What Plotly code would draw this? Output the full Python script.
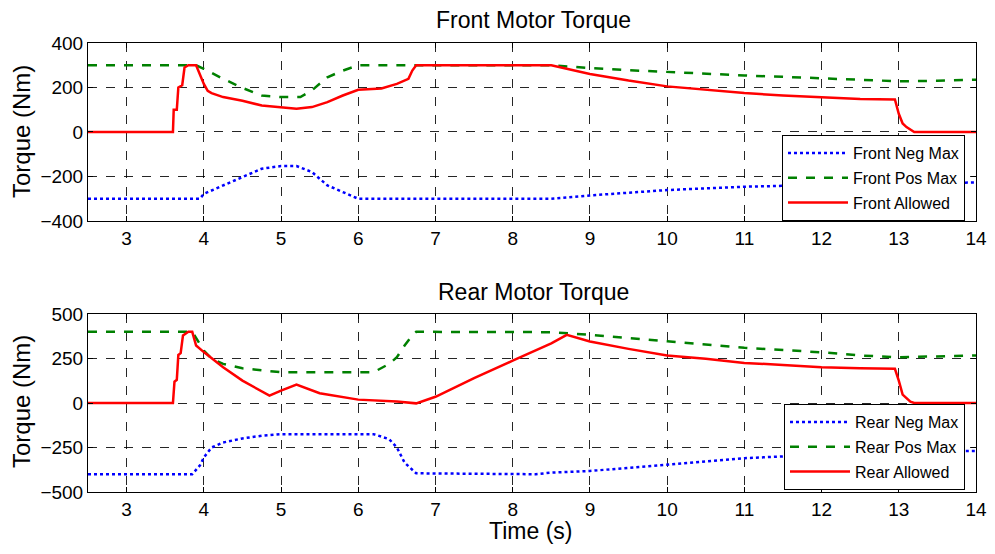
import plotly.graph_objects as go

# ---------------- data ----------------
front_neg_t = [2.5, 3.95, 4.0, 4.25, 4.5, 4.75, 5.0, 5.2, 5.4, 5.6, 5.8, 6.0, 8.5, 9.0, 10.0, 11.0, 12.0, 13.0, 14.0]
front_neg = [-300, -300, -278, -240, -203, -165, -153, -153, -180, -240, -270, -300, -300, -285, -261, -246, -238, -232, -227]

front_pos_t = [2.5, 3.9, 4.0, 4.25, 4.5, 4.75, 5.0, 5.25, 5.4, 5.6, 5.8, 6.0, 8.5, 9.0, 9.5, 10.0, 10.5, 11.0, 11.5, 12.0, 12.5, 13.0, 13.5, 14.0]
front_pos = [300, 300, 284, 239, 198, 164, 157, 157, 187, 246, 276, 300, 300, 287, 278, 269, 262, 254, 248, 242, 236, 228, 230, 235]

front_allow_t = [2.5, 3.6, 3.61, 3.65, 3.67, 3.72, 3.75, 3.8, 3.9, 3.95, 4.0, 4.05, 4.1, 4.25, 4.5, 4.75, 5.0, 5.2, 5.4, 5.6, 5.8, 6.0, 6.3, 6.5, 6.65, 6.7, 6.75,
                 8.5, 9.0, 9.5, 10.0, 10.5, 11.0, 11.5, 12.0, 12.5, 12.95, 13.0, 13.05, 13.1, 13.2, 14.0]
front_allow = [0, 0, 100, 100, 200, 210, 290, 300, 300, 260, 216, 185, 175, 157, 140, 119, 109, 104, 112, 134, 164, 190, 196, 216, 239, 276, 300,
               300, 261, 231, 205, 190, 175, 164, 157, 148, 146, 82, 38, 22, 0, 0]

rear_neg_t = [2.5, 3.85, 3.95, 4.0, 4.1, 4.25, 4.5, 4.75, 5.0, 6.2, 6.4, 6.5, 6.6, 6.75, 8.3, 8.5, 9.0, 10.0, 11.0, 12.0, 13.0, 14.0]
rear_neg = [-400, -400, -350, -306, -250, -222, -199, -184, -175, -175, -203, -250, -335, -395, -400, -391, -382, -348, -310, -290, -277, -269]

rear_pos_t = [2.5, 3.85, 3.95, 4.0, 4.1, 4.25, 4.5, 4.75, 5.0, 6.2, 6.4, 6.5, 6.6, 6.7, 6.75, 8.5, 9.0, 10.0, 11.0, 12.0, 12.5, 13.0, 14.0]
rear_pos = [400, 400, 330, 295, 250, 220, 195, 186, 173, 173, 220, 257, 323, 380, 400, 398, 383, 347, 310, 285, 267, 257, 267]

rear_allow_t = [2.5, 3.6, 3.62, 3.65, 3.67, 3.7, 3.73, 3.8, 3.85, 3.9, 4.0, 4.25, 4.5, 4.75, 4.85, 5.0, 5.2, 5.5, 6.0, 6.5, 6.75, 7.0, 7.5, 8.0, 8.5, 8.7,
                9.0, 9.5, 10.0, 10.5, 11.0, 11.5, 12.0, 12.5, 12.95, 13.0, 13.05, 13.15, 13.2, 14.0]
rear_allow = [0, 0, 120, 130, 270, 280, 380, 400, 400, 323, 286, 201, 126, 64, 41, 70, 103, 55, 19, 8, -2, 35, 140, 238, 335, 383,
              346, 304, 267, 248, 225, 214, 201, 195, 192, 126, 47, 7, 0, 0]

x_ticks = [3, 4, 5, 6, 7, 8, 9, 10, 11, 12, 13, 14]
front_y_ticks = [-400, -200, 0, 200, 400]
rear_y_ticks = [-500, -250, 0, 250, 500]

FONT = "Liberation Sans, Arial, sans-serif"
BLUE, GREEN, RED = "rgb(0,0,255)", "rgb(0,128,0)", "rgb(255,0,0)"

fig = go.Figure()

def add(t, y, name, color, dash, xa, ya, leg, grp):
    fig.add_trace(go.Scatter(x=t, y=y, name=name, mode="lines",
                             line=dict(color=color, width=2.5, dash=dash),
                             xaxis=xa, yaxis=ya, legend=leg, legendgroup=grp))

add(front_neg_t, front_neg, "Front Neg Max", BLUE, "dot", "x", "y", "legend", "a")
add(front_pos_t, front_pos, "Front Pos Max", GREEN, "dash", "x", "y", "legend", "b")
add(front_allow_t, front_allow, "Front Allowed", RED, "solid", "x", "y", "legend", "c")
add(rear_neg_t, rear_neg, "Rear Neg Max", BLUE, "dot", "x2", "y2", "legend2", "d")
add(rear_pos_t, rear_pos, "Rear Pos Max", GREEN, "dash", "x2", "y2", "legend2", "e")
add(rear_allow_t, rear_allow, "Rear Allowed", RED, "solid", "x2", "y2", "legend2", "f")

axis_common = dict(showline=True, linecolor="black", linewidth=1, mirror="ticks",
                   ticks="inside", ticklen=5, tickcolor="black",
                   showgrid=True, gridcolor="rgba(0,0,0,0.85)", gridwidth=1, griddash="dash",
                   zeroline=False, automargin=False, ticklabeloverflow="allow",
                   tickfont=dict(family=FONT, size=19, color="black"))

legend_common = dict(xanchor="right", yanchor="top",
                     bgcolor="white", bordercolor="black", borderwidth=1,
                     font=dict(family=FONT, size=16, color="black"),
                     traceorder="grouped", tracegroupgap=1, itemwidth=60)

# Page pixel geometry of the plot areas (the page body adds an 8 px margin).
PL, PR, PB = 88, 976, 492
PW, PH = PR - PL, 449

fig.update_layout(
    width=979, height=538,
    margin=dict(l=80, r=11, t=35, b=54, autoexpand=False),
    paper_bgcolor="white", plot_bgcolor="white",
    font=dict(family=FONT, color="black"),
    xaxis=dict(domain=[0, 1], range=[2.5, 14], tickvals=x_ticks, anchor="y", **axis_common),
    yaxis=dict(domain=[0.6036, 1], range=[-400, 400], tickvals=front_y_ticks, anchor="x", **axis_common),
    xaxis2=dict(domain=[0, 1], range=[2.5, 14], tickvals=x_ticks, anchor="y2", **axis_common),
    yaxis2=dict(domain=[0, 0.3964], range=[-500, 500], tickvals=rear_y_ticks, anchor="x2", **axis_common),
    legend=dict(x=(965 - PL) / PW, y=(PB - 135) / PH, **legend_common),
    legend2=dict(x=(965 - PL) / PW, y=(PB - 404) / PH, **legend_common),
    showlegend=True,
)

def note(text, px, py, size, angle=0):
    fig.add_annotation(text=text, xref="paper", yref="paper",
                       x=(px - PL) / PW, y=(PB - py) / PH,
                       textangle=angle, showarrow=False,
                       font=dict(family=FONT, size=size, color="black"),
                       xanchor="center", yanchor="middle")

note("Front Motor Torque", 533, 20, 23)
note("Rear Motor Torque", 533, 292, 23)
note("Torque (Nm)", 21, 132, 24, -90)
note("Torque (Nm)", 21, 402, 24, -90)
note("Time (s)", 530, 531, 23)

fig.write_html("out.html")
